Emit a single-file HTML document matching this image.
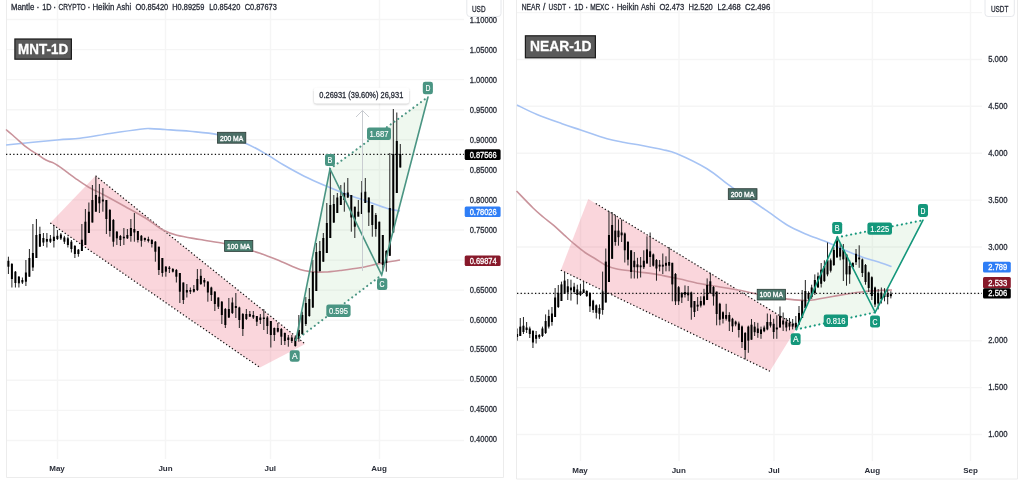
<!DOCTYPE html><html><head><meta charset="utf-8"><title>MNT-1D / NEAR-1D</title><style>html,body{margin:0;padding:0;width:1024px;height:480px;overflow:hidden;background:#fff}</style></head><body><svg width="1024" height="480" viewBox="0 0 1024 480" style="position:absolute;left:0;top:0" font-family="'Liberation Sans', Arial, sans-serif">
<rect width="1024" height="480" fill="#fff"/>
<g stroke="#f5f5f5" stroke-width="1.4">
<line x1="6" y1="19.5" x2="464" y2="19.5"/>
<line x1="6" y1="49.6" x2="464" y2="49.6"/>
<line x1="6" y1="79.6" x2="464" y2="79.6"/>
<line x1="6" y1="109.7" x2="464" y2="109.7"/>
<line x1="6" y1="139.8" x2="464" y2="139.8"/>
<line x1="6" y1="169.8" x2="464" y2="169.8"/>
<line x1="6" y1="199.9" x2="464" y2="199.9"/>
<line x1="6" y1="230.0" x2="464" y2="230.0"/>
<line x1="6" y1="260.1" x2="464" y2="260.1"/>
<line x1="6" y1="290.1" x2="464" y2="290.1"/>
<line x1="6" y1="320.2" x2="464" y2="320.2"/>
<line x1="6" y1="350.3" x2="464" y2="350.3"/>
<line x1="6" y1="380.3" x2="464" y2="380.3"/>
<line x1="6" y1="410.4" x2="464" y2="410.4"/>
<line x1="6" y1="440.5" x2="464" y2="440.5"/>
<line x1="57.5" y1="0" x2="57.5" y2="459"/>
<line x1="165.5" y1="0" x2="165.5" y2="459"/>
<line x1="270.5" y1="0" x2="270.5" y2="459"/>
<line x1="379.5" y1="0" x2="379.5" y2="459"/>
</g>
<g stroke="#ececec" stroke-width="1" fill="none">
<line x1="6.5" y1="0" x2="6.5" y2="477.5"/>
<line x1="503.5" y1="0" x2="503.5" y2="477.5"/>
<line x1="6.5" y1="477.5" x2="503.5" y2="477.5"/>
</g>
<polygon points="50.3,223.1 95.6,175.8 305.2,344.0 260.0,367.6" fill="rgb(228,52,78)" fill-opacity="0.2"/>
<g stroke="#111" stroke-width="1.2" stroke-dasharray="1.3 2.2" fill="none">
<line x1="95.6" y1="175.8" x2="305.2" y2="344"/>
<line x1="50.3" y1="223.1" x2="260" y2="367.6"/>
</g>
<polygon points="296.0,340.0 330.0,169.0 381.7,275.0" fill="rgb(100,185,100)" fill-opacity="0.1"/>
<polygon points="330.0,169.0 381.7,275.0 428.0,97.0" fill="rgb(100,185,100)" fill-opacity="0.1"/>
<path d="M6.00,145.00 C14.50,144.17 44.67,141.12 57.00,140.00 C69.33,138.88 71.17,139.38 80.00,138.30 C88.83,137.22 100.00,135.02 110.00,133.50 C120.00,131.98 133.33,130.02 140.00,129.20 C146.67,128.38 145.83,128.55 150.00,128.60 C154.17,128.65 158.33,129.05 165.00,129.50 C171.67,129.95 181.22,130.45 190.00,131.30 C198.78,132.15 208.57,132.67 217.70,134.60 C226.83,136.53 236.63,139.60 244.80,142.90 C252.97,146.20 260.28,150.75 266.70,154.40 C273.12,158.05 277.05,161.17 283.30,164.80 C289.55,168.43 297.25,172.73 304.20,176.20 C311.15,179.67 318.07,182.63 325.00,185.60 C331.93,188.57 338.85,191.40 345.80,194.00 C352.75,196.60 359.75,198.78 366.70,201.20 C373.65,203.62 381.95,206.87 387.50,208.50 C393.05,210.13 397.92,210.58 400.00,211.00" stroke="#a6c3f4" stroke-width="1.6" fill="none"/>
<path d="M6.00,129.50 C7.08,130.42 10.38,133.15 12.50,135.00 C14.62,136.85 16.67,138.73 18.75,140.60 C20.83,142.47 22.92,144.53 25.00,146.20 C27.08,147.87 29.17,149.23 31.25,150.60 C33.33,151.97 35.42,153.05 37.50,154.40 C39.58,155.75 41.88,157.57 43.75,158.70 C45.62,159.83 47.08,160.47 48.75,161.20 C50.42,161.93 52.08,162.27 53.75,163.10 C55.42,163.93 56.88,164.95 58.75,166.20 C60.62,167.45 63.12,169.23 65.00,170.60 C66.88,171.97 68.33,173.15 70.00,174.40 C71.67,175.65 72.08,176.08 75.00,178.10 C77.92,180.12 82.67,183.68 87.50,186.50 C92.33,189.32 97.75,191.67 104.00,195.00 C110.25,198.33 118.03,202.62 125.00,206.50 C131.97,210.38 139.55,214.42 145.80,218.30 C152.05,222.18 157.30,226.97 162.50,229.80 C167.70,232.63 170.75,233.68 177.00,235.30 C183.25,236.92 192.17,238.13 200.00,239.50 C207.83,240.87 217.33,242.20 224.00,243.50 C230.67,244.80 234.00,245.67 240.00,247.30 C246.00,248.93 253.33,251.02 260.00,253.30 C266.67,255.58 273.33,258.30 280.00,261.00 C286.67,263.70 294.67,267.70 300.00,269.50 C305.33,271.30 307.83,271.38 312.00,271.80 C316.17,272.22 320.33,272.22 325.00,272.00 C329.67,271.78 334.17,271.20 340.00,270.50 C345.83,269.80 353.33,268.98 360.00,267.80 C366.67,266.62 373.33,264.70 380.00,263.40 C386.67,262.10 396.67,260.57 400.00,260.00" stroke="#c9939b" stroke-width="1.6" fill="none"/>
<line x1="6" y1="154.3" x2="464" y2="154.3" stroke="#111" stroke-width="1.2" stroke-dasharray="1.3 2.3"/>
<defs><clipPath id="clipL"><rect x="7" y="0" width="457" height="459"/></clipPath><clipPath id="clipR"><rect x="517" y="0" width="465" height="461"/></clipPath></defs>
<g clip-path="url(#clipL)"><g fill="#000"><rect x="7.90" y="256.70" width="1.0" height="17.30" fill="#222"/><rect x="7.40" y="260.80" width="2.0" height="5.90"/><rect x="11.40" y="263.00" width="1.0" height="24.50" fill="#222"/><rect x="10.90" y="264.00" width="2.0" height="15.00"/><rect x="14.90" y="271.00" width="1.0" height="16.50" fill="#222"/><rect x="14.40" y="271.70" width="2.0" height="11.30"/><rect x="18.39" y="276.00" width="1.0" height="11.50" fill="#222"/><rect x="17.89" y="276.70" width="2.0" height="6.60"/><rect x="21.89" y="277.50" width="1.0" height="6.50" fill="#222"/><rect x="21.39" y="280.00" width="2.0" height="2.50"/><rect x="25.39" y="260.00" width="1.0" height="26.00" fill="#222"/><rect x="24.89" y="272.50" width="2.0" height="9.20"/><rect x="28.89" y="249.00" width="1.0" height="27.70" fill="#222"/><rect x="28.39" y="258.00" width="2.0" height="18.70"/><rect x="32.39" y="224.00" width="1.0" height="47.00" fill="#222"/><rect x="31.89" y="253.00" width="2.0" height="14.50"/><rect x="35.89" y="219.00" width="1.0" height="39.00" fill="#222"/><rect x="35.39" y="235.00" width="2.0" height="23.00"/><rect x="39.39" y="226.70" width="1.0" height="20.00" fill="#222"/><rect x="38.89" y="234.00" width="2.0" height="12.70"/><rect x="42.89" y="233.00" width="1.0" height="13.00" fill="#222"/><rect x="42.39" y="238.00" width="2.0" height="4.50"/><rect x="46.39" y="233.00" width="1.0" height="14.50" fill="#222"/><rect x="45.89" y="239.00" width="2.0" height="2.70"/><rect x="49.89" y="235.00" width="1.0" height="8.00" fill="#222"/><rect x="49.39" y="238.70" width="2.0" height="3.00"/><rect x="53.39" y="225.00" width="1.0" height="22.50" fill="#222"/><rect x="52.89" y="236.70" width="2.0" height="4.30"/><rect x="56.88" y="230.00" width="1.0" height="10.00" fill="#222"/><rect x="56.38" y="235.80" width="2.0" height="3.20"/><rect x="60.38" y="233.00" width="1.0" height="7.00" fill="#222"/><rect x="59.88" y="234.50" width="2.0" height="4.00"/><rect x="63.88" y="235.80" width="1.0" height="8.20" fill="#222"/><rect x="63.38" y="237.50" width="2.0" height="4.20"/><rect x="67.38" y="236.70" width="1.0" height="10.80" fill="#222"/><rect x="66.88" y="238.30" width="2.0" height="6.70"/><rect x="70.88" y="240.00" width="1.0" height="12.50" fill="#222"/><rect x="70.38" y="241.70" width="2.0" height="7.30"/><rect x="74.38" y="245.00" width="1.0" height="13.00" fill="#222"/><rect x="73.88" y="246.00" width="2.0" height="8.00"/><rect x="77.88" y="249.00" width="1.0" height="7.70" fill="#222"/><rect x="77.38" y="249.70" width="2.0" height="4.30"/><rect x="81.38" y="224.00" width="1.0" height="27.00" fill="#222"/><rect x="80.88" y="239.70" width="2.0" height="11.30"/><rect x="84.88" y="209.00" width="1.0" height="36.00" fill="#222"/><rect x="84.38" y="221.70" width="2.0" height="23.30"/><rect x="88.38" y="202.50" width="1.0" height="30.50" fill="#222"/><rect x="87.88" y="211.70" width="2.0" height="21.30"/><rect x="91.88" y="185.00" width="1.0" height="37.50" fill="#222"/><rect x="91.38" y="200.00" width="2.0" height="22.50"/><rect x="95.37" y="176.70" width="1.0" height="35.00" fill="#222"/><rect x="94.87" y="195.00" width="2.0" height="16.70"/><rect x="98.87" y="184.00" width="1.0" height="29.00" fill="#222"/><rect x="98.37" y="196.70" width="2.0" height="6.60"/><rect x="102.37" y="188.00" width="1.0" height="23.70" fill="#222"/><rect x="101.87" y="199.50" width="2.0" height="2.00"/><rect x="105.87" y="200.00" width="1.0" height="34.00" fill="#222"/><rect x="105.37" y="200.00" width="2.0" height="19.00"/><rect x="109.37" y="209.00" width="1.0" height="27.70" fill="#222"/><rect x="108.87" y="210.00" width="2.0" height="21.00"/><rect x="112.87" y="219.00" width="1.0" height="27.70" fill="#222"/><rect x="112.37" y="220.00" width="2.0" height="21.70"/><rect x="116.37" y="231.00" width="1.0" height="14.00" fill="#222"/><rect x="115.87" y="231.70" width="2.0" height="6.60"/><rect x="119.87" y="235.00" width="1.0" height="11.00" fill="#222"/><rect x="119.37" y="236.00" width="2.0" height="4.00"/><rect x="123.37" y="228.00" width="1.0" height="17.00" fill="#222"/><rect x="122.87" y="236.70" width="2.0" height="1.60"/><rect x="126.87" y="229.00" width="1.0" height="10.00" fill="#222"/><rect x="126.37" y="235.00" width="2.0" height="3.30"/><rect x="130.37" y="219.00" width="1.0" height="22.70" fill="#222"/><rect x="129.87" y="228.00" width="2.0" height="8.00"/><rect x="133.86" y="213.00" width="1.0" height="28.70" fill="#222"/><rect x="133.36" y="229.00" width="2.0" height="3.50"/><rect x="137.36" y="231.00" width="1.0" height="11.50" fill="#222"/><rect x="136.86" y="231.00" width="2.0" height="9.00"/><rect x="140.86" y="235.00" width="1.0" height="11.70" fill="#222"/><rect x="140.36" y="235.80" width="2.0" height="5.00"/><rect x="144.36" y="237.50" width="1.0" height="4.20" fill="#222"/><rect x="143.86" y="238.00" width="2.0" height="2.00"/><rect x="147.86" y="236.70" width="1.0" height="5.80" fill="#222"/><rect x="147.36" y="239.00" width="2.0" height="2.00"/><rect x="151.36" y="239.00" width="1.0" height="8.50" fill="#222"/><rect x="150.86" y="240.00" width="2.0" height="4.00"/><rect x="154.86" y="241.00" width="1.0" height="20.70" fill="#222"/><rect x="154.36" y="241.70" width="2.0" height="10.00"/><rect x="158.36" y="246.70" width="1.0" height="28.30" fill="#222"/><rect x="157.86" y="246.70" width="2.0" height="23.30"/><rect x="161.86" y="258.00" width="1.0" height="18.70" fill="#222"/><rect x="161.36" y="258.00" width="2.0" height="15.00"/><rect x="165.36" y="266.00" width="1.0" height="10.70" fill="#222"/><rect x="164.86" y="266.70" width="2.0" height="5.00"/><rect x="168.86" y="266.00" width="1.0" height="7.00" fill="#222"/><rect x="168.36" y="267.50" width="2.0" height="1.50"/><rect x="172.35" y="268.00" width="1.0" height="4.50" fill="#222"/><rect x="171.85" y="269.00" width="2.0" height="2.70"/><rect x="175.85" y="269.00" width="1.0" height="13.50" fill="#222"/><rect x="175.35" y="270.00" width="2.0" height="6.70"/><rect x="179.35" y="273.00" width="1.0" height="30.00" fill="#222"/><rect x="178.85" y="273.00" width="2.0" height="18.70"/><rect x="182.85" y="282.50" width="1.0" height="21.50" fill="#222"/><rect x="182.35" y="282.50" width="2.0" height="17.50"/><rect x="186.35" y="284.00" width="1.0" height="13.50" fill="#222"/><rect x="185.85" y="290.00" width="2.0" height="2.50"/><rect x="189.85" y="287.50" width="1.0" height="6.50" fill="#222"/><rect x="189.35" y="290.00" width="2.0" height="1.70"/><rect x="193.35" y="285.00" width="1.0" height="7.50" fill="#222"/><rect x="192.85" y="289.00" width="2.0" height="2.70"/><rect x="196.85" y="269.00" width="1.0" height="22.00" fill="#222"/><rect x="196.35" y="279.00" width="2.0" height="11.00"/><rect x="200.35" y="269.00" width="1.0" height="16.00" fill="#222"/><rect x="199.85" y="275.80" width="2.0" height="8.20"/><rect x="203.85" y="278.00" width="1.0" height="8.70" fill="#222"/><rect x="203.35" y="280.00" width="2.0" height="2.50"/><rect x="207.35" y="281.00" width="1.0" height="20.70" fill="#222"/><rect x="206.85" y="281.70" width="2.0" height="10.80"/><rect x="210.84" y="286.70" width="1.0" height="14.30" fill="#222"/><rect x="210.34" y="287.50" width="2.0" height="7.50"/><rect x="214.34" y="291.00" width="1.0" height="20.00" fill="#222"/><rect x="213.84" y="291.70" width="2.0" height="12.30"/><rect x="217.84" y="297.50" width="1.0" height="11.50" fill="#222"/><rect x="217.34" y="297.50" width="2.0" height="9.20"/><rect x="221.34" y="301.00" width="1.0" height="23.00" fill="#222"/><rect x="220.84" y="301.70" width="2.0" height="13.30"/><rect x="224.84" y="308.00" width="1.0" height="20.00" fill="#222"/><rect x="224.34" y="309.00" width="2.0" height="16.00"/><rect x="228.34" y="298.00" width="1.0" height="20.00" fill="#222"/><rect x="227.84" y="309.00" width="2.0" height="8.50"/><rect x="231.84" y="297.50" width="1.0" height="16.50" fill="#222"/><rect x="231.34" y="302.50" width="2.0" height="10.50"/><rect x="235.34" y="293.00" width="1.0" height="25.00" fill="#222"/><rect x="234.84" y="306.00" width="2.0" height="2.00"/><rect x="238.84" y="306.70" width="1.0" height="21.30" fill="#222"/><rect x="238.34" y="307.50" width="2.0" height="12.50"/><rect x="242.34" y="313.00" width="1.0" height="23.00" fill="#222"/><rect x="241.84" y="314.00" width="2.0" height="15.00"/><rect x="245.84" y="309.00" width="1.0" height="11.00" fill="#222"/><rect x="245.34" y="314.00" width="2.0" height="5.00"/><rect x="249.33" y="311.00" width="1.0" height="5.70" fill="#222"/><rect x="248.83" y="314.00" width="2.0" height="2.70"/><rect x="252.83" y="311.00" width="1.0" height="8.00" fill="#222"/><rect x="252.33" y="315.00" width="2.0" height="2.50"/><rect x="256.33" y="316.00" width="1.0" height="10.00" fill="#222"/><rect x="255.83" y="316.00" width="2.0" height="5.70"/><rect x="259.83" y="314.00" width="1.0" height="10.00" fill="#222"/><rect x="259.33" y="317.50" width="2.0" height="2.50"/><rect x="263.33" y="309.00" width="1.0" height="21.00" fill="#222"/><rect x="262.83" y="317.50" width="2.0" height="1.50"/><rect x="266.83" y="316.00" width="1.0" height="18.00" fill="#222"/><rect x="266.33" y="317.50" width="2.0" height="8.50"/><rect x="270.33" y="321.00" width="1.0" height="26.50" fill="#222"/><rect x="269.83" y="321.00" width="2.0" height="14.00"/><rect x="273.83" y="327.50" width="1.0" height="13.50" fill="#222"/><rect x="273.33" y="328.00" width="2.0" height="7.00"/><rect x="277.33" y="323.00" width="1.0" height="9.50" fill="#222"/><rect x="276.83" y="328.00" width="2.0" height="3.70"/><rect x="280.83" y="328.00" width="1.0" height="17.00" fill="#222"/><rect x="280.33" y="329.00" width="2.0" height="7.70"/><rect x="284.33" y="332.50" width="1.0" height="12.50" fill="#222"/><rect x="283.83" y="333.00" width="2.0" height="8.00"/><rect x="287.82" y="335.00" width="1.0" height="11.70" fill="#222"/><rect x="287.32" y="337.50" width="2.0" height="2.50"/><rect x="291.32" y="335.00" width="1.0" height="8.00" fill="#222"/><rect x="290.82" y="337.50" width="2.0" height="3.50"/><rect x="294.82" y="336.70" width="1.0" height="10.00" fill="#222"/><rect x="294.32" y="337.50" width="2.0" height="8.50"/><rect x="298.32" y="315.00" width="1.0" height="26.70" fill="#222"/><rect x="297.82" y="330.00" width="2.0" height="8.30"/><rect x="301.82" y="311.70" width="1.0" height="23.30" fill="#222"/><rect x="301.32" y="315.00" width="2.0" height="19.00"/><rect x="305.32" y="297.00" width="1.0" height="29.00" fill="#222"/><rect x="304.82" y="303.00" width="2.0" height="21.00"/><rect x="308.82" y="288.00" width="1.0" height="28.70" fill="#222"/><rect x="308.32" y="299.00" width="2.0" height="17.00"/><rect x="312.32" y="260.00" width="1.0" height="48.00" fill="#222"/><rect x="311.82" y="272.00" width="2.0" height="35.50"/><rect x="315.82" y="243.00" width="1.0" height="48.00" fill="#222"/><rect x="315.32" y="252.00" width="2.0" height="39.00"/><rect x="319.32" y="241.00" width="1.0" height="30.70" fill="#222"/><rect x="318.82" y="251.00" width="2.0" height="20.00"/><rect x="322.82" y="233.00" width="1.0" height="28.70" fill="#222"/><rect x="322.32" y="238.00" width="2.0" height="23.70"/><rect x="326.32" y="203.00" width="1.0" height="50.00" fill="#222"/><rect x="325.82" y="223.00" width="2.0" height="30.00"/><rect x="329.81" y="168.00" width="1.0" height="70.00" fill="#222"/><rect x="329.31" y="205.00" width="2.0" height="33.00"/><rect x="333.31" y="195.00" width="1.0" height="28.00" fill="#222"/><rect x="332.81" y="204.00" width="2.0" height="18.50"/><rect x="336.81" y="193.00" width="1.0" height="20.00" fill="#222"/><rect x="336.31" y="197.50" width="2.0" height="15.50"/><rect x="340.31" y="185.00" width="1.0" height="20.00" fill="#222"/><rect x="339.81" y="196.00" width="2.0" height="9.00"/><rect x="343.81" y="182.50" width="1.0" height="29.20" fill="#222"/><rect x="343.31" y="193.00" width="2.0" height="7.00"/><rect x="347.31" y="178.00" width="1.0" height="20.00" fill="#222"/><rect x="346.81" y="192.50" width="2.0" height="5.00"/><rect x="350.81" y="195.00" width="1.0" height="36.70" fill="#222"/><rect x="350.31" y="195.00" width="2.0" height="22.50"/><rect x="354.31" y="206.70" width="1.0" height="31.30" fill="#222"/><rect x="353.81" y="206.70" width="2.0" height="20.00"/><rect x="357.81" y="200.00" width="1.0" height="15.00" fill="#222"/><rect x="357.31" y="211.70" width="2.0" height="5.00"/><rect x="361.31" y="181.00" width="1.0" height="33.00" fill="#222"/><rect x="360.81" y="192.50" width="2.0" height="21.50"/><rect x="364.81" y="178.00" width="1.0" height="25.00" fill="#222"/><rect x="364.31" y="191.70" width="2.0" height="11.30"/><rect x="368.30" y="197.50" width="1.0" height="28.50" fill="#222"/><rect x="367.80" y="197.50" width="2.0" height="15.00"/><rect x="371.80" y="205.00" width="1.0" height="31.70" fill="#222"/><rect x="371.30" y="205.00" width="2.0" height="20.00"/><rect x="375.30" y="213.00" width="1.0" height="23.70" fill="#222"/><rect x="374.80" y="215.00" width="2.0" height="14.00"/><rect x="378.80" y="221.70" width="1.0" height="41.30" fill="#222"/><rect x="378.30" y="221.70" width="2.0" height="41.30"/><rect x="382.30" y="235.00" width="1.0" height="36.00" fill="#222"/><rect x="381.80" y="235.00" width="2.0" height="30.00"/><rect x="385.80" y="250.00" width="1.0" height="21.70" fill="#222"/><rect x="385.30" y="251.00" width="2.0" height="12.00"/><rect x="389.30" y="153.00" width="1.0" height="102.80" fill="#222"/><rect x="388.80" y="208.00" width="2.0" height="47.80"/><rect x="392.80" y="109.00" width="1.0" height="123.50" fill="#222"/><rect x="392.30" y="154.00" width="2.0" height="78.50"/><rect x="396.30" y="112.50" width="1.0" height="80.50" fill="#222"/><rect x="395.80" y="141.00" width="2.0" height="52.00"/><rect x="399.80" y="144.00" width="1.0" height="23.50" fill="#222"/><rect x="399.30" y="154.00" width="2.0" height="13.50"/></g></g>
<g stroke="#4a9583" stroke-width="1.6" fill="none" stroke-linecap="round">
<polyline points="296.0,340.0 330.0,169.0 381.7,275.0 428.0,97.0"/>
</g>
<g stroke="#4a9583" stroke-width="2.1" stroke-dasharray="0.1 4.6" stroke-linecap="round" fill="none">
<line x1="296" y1="340" x2="381.7" y2="275"/>
<line x1="330" y1="169" x2="428" y2="97"/>
</g>
<g stroke="#c9ccd1" stroke-width="1" fill="none">
<line x1="362.5" y1="110.5" x2="362.5" y2="271"/>
<polyline points="356,117 362.5,110.5 369,117"/>
</g>
<rect x="289.7" y="350.3" width="10.0" height="11.4" rx="2.3" fill="#4a9583"/><text x="294.7" y="359.1" font-size="8.5" fill="#fff" text-anchor="middle" font-weight="normal" textLength="5.6" lengthAdjust="spacingAndGlyphs" stroke="#fff" stroke-width="0.15" >A</text>
<rect x="325" y="154" width="10.0" height="12.0" rx="2.3" fill="#4a9583"/><text x="330.0" y="163.1" font-size="8.5" fill="#fff" text-anchor="middle" font-weight="normal" textLength="4.8" lengthAdjust="spacingAndGlyphs" stroke="#fff" stroke-width="0.15" >B</text>
<rect x="377" y="278.3" width="10.3" height="11.7" rx="2.3" fill="#4a9583"/><text x="382.1" y="287.2" font-size="8.5" fill="#fff" text-anchor="middle" font-weight="normal" textLength="5.0" lengthAdjust="spacingAndGlyphs" stroke="#fff" stroke-width="0.15" >C</text>
<rect x="422.8" y="81.7" width="10.1" height="12.6" rx="2.3" fill="#4a9583"/><text x="427.9" y="91.1" font-size="8.5" fill="#fff" text-anchor="middle" font-weight="normal" textLength="4.9" lengthAdjust="spacingAndGlyphs" stroke="#fff" stroke-width="0.15" >D</text>
<rect x="326.3" y="304.4" width="24.3" height="12.5" rx="2.3" fill="#4a9583"/><text x="338.5" y="313.7" font-size="8.5" fill="#fff" text-anchor="middle" font-weight="normal" textLength="19" lengthAdjust="spacingAndGlyphs" stroke="#fff" stroke-width="0.15" >0.595</text>
<rect x="367" y="127.5" width="24.0" height="12.5" rx="2.3" fill="#4a9583"/><text x="379.0" y="136.8" font-size="8.5" fill="#fff" text-anchor="middle" font-weight="normal" textLength="19" lengthAdjust="spacingAndGlyphs" stroke="#fff" stroke-width="0.15" >1.687</text>
<defs><filter id="sh" x="-20%" y="-40%" width="140%" height="180%"><feGaussianBlur in="SourceAlpha" stdDeviation="1.2"/><feOffset dy="0.5"/><feComponentTransfer><feFuncA type="linear" slope="0.25"/></feComponentTransfer><feMerge><feMergeNode/><feMergeNode in="SourceGraphic"/></feMerge></filter></defs>
<rect x="314" y="87.7" width="95" height="15.6" rx="2.5" fill="#fff" filter="url(#sh)"/>
<text x="361.3" y="98.3" font-size="8.3" fill="#2a2e39" text-anchor="middle" font-weight="normal" textLength="84" lengthAdjust="spacingAndGlyphs" stroke="#2a2e39" stroke-width="0.3" >0.26931 (39.60%) 26,931</text>
<rect x="217.5" y="132.3" width="28.3" height="10.9" fill="#4b6e66" stroke="#2b3a36" stroke-width="0.8"/>
<text x="231.6" y="140.5" font-size="7.6" fill="#fff" text-anchor="middle" font-weight="normal" textLength="23.4" lengthAdjust="spacingAndGlyphs" stroke="#fff" stroke-width="0.35" >200 MA</text>
<rect x="224.6" y="240.4" width="28.2" height="11" fill="#477b6c" stroke="#2b3a36" stroke-width="0.8"/>
<text x="238.7" y="248.6" font-size="7.6" fill="#fff" text-anchor="middle" font-weight="normal" textLength="23.4" lengthAdjust="spacingAndGlyphs" stroke="#fff" stroke-width="0.35" >100 MA</text>
<rect x="14.9" y="39" width="56.5" height="20.2" fill="#5a5a5a" stroke="#1c1c1c" stroke-width="1.2"/>
<text x="43.1" y="54" font-size="14.5" fill="#fff" text-anchor="middle" font-weight="bold" textLength="50" lengthAdjust="spacingAndGlyphs" stroke="#fff" stroke-width="0.3" >MNT-1D</text>
<text x="10.95" y="9.7" font-size="8.5" fill="#2a2e39" text-anchor="start" font-weight="normal" textLength="23.35" lengthAdjust="spacingAndGlyphs" stroke="#2a2e39" stroke-width="0.3" >Mantle</text><text x="38.00" y="9.7" font-size="8.5" fill="#2a2e39" text-anchor="middle" font-weight="normal" stroke="#2a2e39" stroke-width="0.3" >·</text><text x="42.20" y="9.7" font-size="8.5" fill="#2a2e39" text-anchor="start" font-weight="normal" textLength="9.35" lengthAdjust="spacingAndGlyphs" stroke="#2a2e39" stroke-width="0.3" >1D</text><text x="54.60" y="9.7" font-size="8.5" fill="#2a2e39" text-anchor="middle" font-weight="normal" stroke="#2a2e39" stroke-width="0.3" >·</text><text x="58.45" y="9.7" font-size="8.5" fill="#2a2e39" text-anchor="start" font-weight="normal" textLength="27.25" lengthAdjust="spacingAndGlyphs" stroke="#2a2e39" stroke-width="0.3" >CRYPTO</text><text x="89.00" y="9.7" font-size="8.5" fill="#2a2e39" text-anchor="middle" font-weight="normal" stroke="#2a2e39" stroke-width="0.3" >·</text><text x="92.45" y="9.7" font-size="8.5" fill="#2a2e39" text-anchor="start" font-weight="normal" textLength="21.85" lengthAdjust="spacingAndGlyphs" stroke="#2a2e39" stroke-width="0.3" >Heikin</text><text x="116.60" y="9.7" font-size="8.5" fill="#2a2e39" text-anchor="start" font-weight="normal" textLength="14.45" lengthAdjust="spacingAndGlyphs" stroke="#2a2e39" stroke-width="0.3" >Ashi</text><text x="135.45" y="9.7" font-size="8.5" fill="#2a2e39" text-anchor="start" font-weight="normal" textLength="32.85" lengthAdjust="spacingAndGlyphs" stroke="#2a2e39" stroke-width="0.3" >O0.85420</text><text x="172.30" y="9.7" font-size="8.5" fill="#2a2e39" text-anchor="start" font-weight="normal" textLength="32.00" lengthAdjust="spacingAndGlyphs" stroke="#2a2e39" stroke-width="0.3" >H0.89259</text><text x="209.20" y="9.7" font-size="8.5" fill="#2a2e39" text-anchor="start" font-weight="normal" textLength="31.10" lengthAdjust="spacingAndGlyphs" stroke="#2a2e39" stroke-width="0.3" >L0.85420</text><text x="244.70" y="9.7" font-size="8.5" fill="#2a2e39" text-anchor="start" font-weight="normal" textLength="32.20" lengthAdjust="spacingAndGlyphs" stroke="#2a2e39" stroke-width="0.3" >C0.87673</text>
<text x="497" y="22.70" font-size="8.7" fill="#2a2e39" text-anchor="end" font-weight="normal" textLength="27.2" lengthAdjust="spacingAndGlyphs" stroke="#2a2e39" stroke-width="0.3" >1.10000</text>
<text x="497" y="52.68" font-size="8.7" fill="#2a2e39" text-anchor="end" font-weight="normal" textLength="27.2" lengthAdjust="spacingAndGlyphs" stroke="#2a2e39" stroke-width="0.3" >1.05000</text>
<text x="497" y="82.66" font-size="8.7" fill="#2a2e39" text-anchor="end" font-weight="normal" textLength="27.2" lengthAdjust="spacingAndGlyphs" stroke="#2a2e39" stroke-width="0.3" >1.00000</text>
<text x="497" y="112.64" font-size="8.7" fill="#2a2e39" text-anchor="end" font-weight="normal" textLength="27.2" lengthAdjust="spacingAndGlyphs" stroke="#2a2e39" stroke-width="0.3" >0.95000</text>
<text x="497" y="142.62" font-size="8.7" fill="#2a2e39" text-anchor="end" font-weight="normal" textLength="27.2" lengthAdjust="spacingAndGlyphs" stroke="#2a2e39" stroke-width="0.3" >0.90000</text>
<text x="497" y="172.60" font-size="8.7" fill="#2a2e39" text-anchor="end" font-weight="normal" textLength="27.2" lengthAdjust="spacingAndGlyphs" stroke="#2a2e39" stroke-width="0.3" >0.85000</text>
<text x="497" y="202.58" font-size="8.7" fill="#2a2e39" text-anchor="end" font-weight="normal" textLength="27.2" lengthAdjust="spacingAndGlyphs" stroke="#2a2e39" stroke-width="0.3" >0.80000</text>
<text x="497" y="232.56" font-size="8.7" fill="#2a2e39" text-anchor="end" font-weight="normal" textLength="27.2" lengthAdjust="spacingAndGlyphs" stroke="#2a2e39" stroke-width="0.3" >0.75000</text>
<text x="497" y="292.52" font-size="8.7" fill="#2a2e39" text-anchor="end" font-weight="normal" textLength="27.2" lengthAdjust="spacingAndGlyphs" stroke="#2a2e39" stroke-width="0.3" >0.65000</text>
<text x="497" y="322.50" font-size="8.7" fill="#2a2e39" text-anchor="end" font-weight="normal" textLength="27.2" lengthAdjust="spacingAndGlyphs" stroke="#2a2e39" stroke-width="0.3" >0.60000</text>
<text x="497" y="352.48" font-size="8.7" fill="#2a2e39" text-anchor="end" font-weight="normal" textLength="27.2" lengthAdjust="spacingAndGlyphs" stroke="#2a2e39" stroke-width="0.3" >0.55000</text>
<text x="497" y="382.46" font-size="8.7" fill="#2a2e39" text-anchor="end" font-weight="normal" textLength="27.2" lengthAdjust="spacingAndGlyphs" stroke="#2a2e39" stroke-width="0.3" >0.50000</text>
<text x="497" y="412.44" font-size="8.7" fill="#2a2e39" text-anchor="end" font-weight="normal" textLength="27.2" lengthAdjust="spacingAndGlyphs" stroke="#2a2e39" stroke-width="0.3" >0.45000</text>
<text x="497" y="442.42" font-size="8.7" fill="#2a2e39" text-anchor="end" font-weight="normal" textLength="27.2" lengthAdjust="spacingAndGlyphs" stroke="#2a2e39" stroke-width="0.3" >0.40000</text>
<rect x="466.8" y="-4" width="34.2" height="20.5" rx="3" fill="#fff" stroke="#e6e8ec" stroke-width="1"/>
<text x="472" y="11.6" font-size="8.6" fill="#2a2e39" text-anchor="start" font-weight="normal" textLength="13.5" lengthAdjust="spacingAndGlyphs" stroke="#2a2e39" stroke-width="0.3" >USD</text>
<rect x="464.7" y="149.3" width="35.9" height="10.6" rx="1.5" fill="#000"/><text x="483.2" y="157.6" font-size="8.3" fill="#fff" text-anchor="middle" font-weight="normal" textLength="27" lengthAdjust="spacingAndGlyphs" stroke="#fff" stroke-width="0.3" >0.87566</text>
<rect x="464.7" y="206.6" width="35.9" height="10.4" rx="1.5" fill="#2f7ef6"/><text x="483.2" y="214.8" font-size="8.3" fill="#fff" text-anchor="middle" font-weight="normal" textLength="27" lengthAdjust="spacingAndGlyphs" stroke="#fff" stroke-width="0.3" >0.78026</text>
<rect x="464.7" y="255.4" width="35.9" height="10.5" rx="1.5" fill="#87192a"/><text x="483.2" y="263.6" font-size="8.3" fill="#fff" text-anchor="middle" font-weight="normal" textLength="27" lengthAdjust="spacingAndGlyphs" stroke="#fff" stroke-width="0.3" >0.69874</text>
<text x="57" y="471" font-size="8" fill="#2a2e39" text-anchor="middle" font-weight="bold" >May</text>
<text x="165.5" y="471" font-size="8" fill="#2a2e39" text-anchor="middle" font-weight="bold" >Jun</text>
<text x="270.3" y="471" font-size="8" fill="#2a2e39" text-anchor="middle" font-weight="bold" >Jul</text>
<text x="379" y="471" font-size="8" fill="#2a2e39" text-anchor="middle" font-weight="bold" >Aug</text>
<g stroke="#f5f5f5" stroke-width="1.4">
<line x1="517" y1="12.6" x2="982" y2="12.6"/>
<line x1="517" y1="59.5" x2="982" y2="59.5"/>
<line x1="517" y1="106.3" x2="982" y2="106.3"/>
<line x1="517" y1="153.2" x2="982" y2="153.2"/>
<line x1="517" y1="200.1" x2="982" y2="200.1"/>
<line x1="517" y1="247.0" x2="982" y2="247.0"/>
<line x1="517" y1="293.9" x2="982" y2="293.9"/>
<line x1="517" y1="340.7" x2="982" y2="340.7"/>
<line x1="517" y1="387.6" x2="982" y2="387.6"/>
<line x1="517" y1="434.5" x2="982" y2="434.5"/>
<line x1="580.5" y1="0" x2="580.5" y2="461"/>
<line x1="679" y1="0" x2="679" y2="461"/>
<line x1="774" y1="0" x2="774" y2="461"/>
<line x1="872.4" y1="0" x2="872.4" y2="461"/>
<line x1="970.5" y1="0" x2="970.5" y2="461"/>
</g>
<g stroke="#ececec" stroke-width="1" fill="none">
<line x1="516.5" y1="0" x2="516.5" y2="479"/>
<line x1="1017.5" y1="0" x2="1017.5" y2="479"/>
<line x1="516.5" y1="479" x2="1017.5" y2="479"/>
</g>
<polygon points="560.8,270.2 588.3,198.9 797.5,326.5 769.9,371.2" fill="rgb(228,52,78)" fill-opacity="0.2"/>
<g stroke="#111" stroke-width="1.2" stroke-dasharray="1.3 2.2" fill="none">
<line x1="595.8" y1="203.5" x2="797.5" y2="326.5"/>
<line x1="560.8" y1="270.2" x2="769.9" y2="371.2"/>
</g>
<polygon points="796.3,329.4 837.3,237.3 875.2,312.3" fill="rgb(100,185,100)" fill-opacity="0.1"/>
<polygon points="837.3,237.3 875.2,312.3 923.0,220.2" fill="rgb(100,185,100)" fill-opacity="0.1"/>
<path d="M517.00,105.00 C520.33,106.58 529.50,111.38 537.00,114.50 C544.50,117.62 554.72,121.12 562.00,123.70 C569.28,126.28 573.20,127.50 580.70,130.00 C588.20,132.50 599.70,136.62 607.00,138.70 C614.30,140.78 618.67,141.37 624.50,142.50 C630.33,143.63 635.75,144.33 642.00,145.50 C648.25,146.67 656.17,148.13 662.00,149.50 C667.83,150.87 669.50,150.50 677.00,153.70 C684.50,156.90 698.67,163.70 707.00,168.70 C715.33,173.70 721.50,179.65 727.00,183.70 C732.50,187.75 736.00,190.28 740.00,193.00 C744.00,195.72 746.22,196.80 751.00,200.00 C755.78,203.20 762.62,207.98 768.70,212.20 C774.78,216.42 781.23,221.63 787.50,225.30 C793.77,228.97 800.05,231.53 806.30,234.20 C812.55,236.87 818.75,238.72 825.00,241.30 C831.25,243.88 837.53,247.05 843.80,249.70 C850.07,252.35 856.35,255.00 862.60,257.20 C868.85,259.40 876.47,261.33 881.30,262.90 C886.13,264.47 889.88,265.98 891.60,266.60" stroke="#a6c3f4" stroke-width="1.6" fill="none"/>
<path d="M516.50,191.00 C519.22,193.78 528.35,203.37 532.80,207.70 C537.25,212.03 539.72,214.05 543.20,217.00 C546.68,219.95 550.23,222.43 553.70,225.40 C557.17,228.37 560.53,231.67 564.00,234.80 C567.47,237.93 571.00,241.25 574.50,244.20 C578.00,247.15 581.53,250.08 585.00,252.50 C588.47,254.92 591.85,256.58 595.30,258.70 C598.75,260.82 602.25,263.53 605.70,265.20 C609.15,266.87 610.78,267.62 616.00,268.70 C621.22,269.78 630.03,270.72 637.00,271.70 C643.97,272.68 650.85,273.42 657.80,274.60 C664.75,275.78 671.75,277.32 678.70,278.80 C685.65,280.28 692.62,282.13 699.50,283.50 C706.38,284.87 713.25,285.87 720.00,287.00 C726.75,288.13 734.67,289.30 740.00,290.30 C745.33,291.30 747.00,291.97 752.00,293.00 C757.00,294.03 764.33,295.52 770.00,296.50 C775.67,297.48 779.75,298.23 786.00,298.90 C792.25,299.57 799.75,300.90 807.50,300.50 C815.25,300.10 825.42,297.67 832.50,296.50 C839.58,295.33 843.75,294.42 850.00,293.50 C856.25,292.58 863.00,291.58 870.00,291.00 C877.00,290.42 888.33,290.17 892.00,290.00" stroke="#c9939b" stroke-width="1.6" fill="none"/>
<line x1="517" y1="293.3" x2="982" y2="293.3" stroke="#111" stroke-width="1.2" stroke-dasharray="1.3 2.3"/>
<g clip-path="url(#clipR)"><g fill="#000"><rect x="516.61" y="328.50" width="1.0" height="12.20" fill="#222"/><rect x="516.11" y="334.00" width="2.0" height="3.00"/><rect x="519.77" y="318.00" width="1.0" height="18.00" fill="#222"/><rect x="519.27" y="326.60" width="2.0" height="9.40"/><rect x="522.94" y="317.00" width="1.0" height="17.00" fill="#222"/><rect x="522.44" y="325.70" width="2.0" height="6.30"/><rect x="526.11" y="322.00" width="1.0" height="11.00" fill="#222"/><rect x="525.61" y="327.50" width="2.0" height="2.50"/><rect x="529.28" y="326.60" width="1.0" height="11.40" fill="#222"/><rect x="528.78" y="328.50" width="2.0" height="5.50"/><rect x="532.44" y="330.00" width="1.0" height="18.00" fill="#222"/><rect x="531.94" y="331.00" width="2.0" height="11.50"/><rect x="535.61" y="331.00" width="1.0" height="12.50" fill="#222"/><rect x="535.11" y="335.00" width="2.0" height="3.80"/><rect x="538.78" y="334.00" width="1.0" height="5.00" fill="#222"/><rect x="538.28" y="335.00" width="2.0" height="2.30"/><rect x="541.95" y="326.60" width="1.0" height="10.40" fill="#222"/><rect x="541.45" y="328.50" width="2.0" height="7.50"/><rect x="545.11" y="314.40" width="1.0" height="19.60" fill="#222"/><rect x="544.61" y="321.00" width="2.0" height="12.00"/><rect x="548.28" y="309.70" width="1.0" height="18.80" fill="#222"/><rect x="547.78" y="316.00" width="2.0" height="10.60"/><rect x="551.45" y="307.00" width="1.0" height="18.70" fill="#222"/><rect x="550.95" y="313.50" width="2.0" height="8.50"/><rect x="554.61" y="288.00" width="1.0" height="29.00" fill="#222"/><rect x="554.11" y="297.50" width="2.0" height="19.50"/><rect x="557.78" y="285.00" width="1.0" height="23.00" fill="#222"/><rect x="557.28" y="292.80" width="2.0" height="14.20"/><rect x="560.95" y="281.60" width="1.0" height="19.40" fill="#222"/><rect x="560.45" y="284.40" width="2.0" height="16.60"/><rect x="564.12" y="272.00" width="1.0" height="21.80" fill="#222"/><rect x="563.62" y="280.60" width="2.0" height="13.20"/><rect x="567.28" y="279.00" width="1.0" height="21.00" fill="#222"/><rect x="566.78" y="286.30" width="2.0" height="6.20"/><rect x="570.45" y="279.70" width="1.0" height="20.90" fill="#222"/><rect x="569.95" y="287.50" width="2.0" height="2.80"/><rect x="573.62" y="282.80" width="1.0" height="11.20" fill="#222"/><rect x="573.12" y="286.60" width="2.0" height="5.40"/><rect x="576.79" y="284.70" width="1.0" height="19.70" fill="#222"/><rect x="576.29" y="289.40" width="2.0" height="5.60"/><rect x="579.95" y="283.80" width="1.0" height="12.20" fill="#222"/><rect x="579.45" y="291.30" width="2.0" height="3.70"/><rect x="583.12" y="281.00" width="1.0" height="12.00" fill="#222"/><rect x="582.62" y="289.40" width="2.0" height="3.60"/><rect x="586.29" y="290.30" width="1.0" height="6.70" fill="#222"/><rect x="585.79" y="291.00" width="2.0" height="5.00"/><rect x="589.45" y="292.20" width="1.0" height="19.80" fill="#222"/><rect x="588.95" y="293.00" width="2.0" height="13.30"/><rect x="592.62" y="299.70" width="1.0" height="13.10" fill="#222"/><rect x="592.12" y="300.60" width="2.0" height="9.40"/><rect x="595.79" y="304.40" width="1.0" height="14.10" fill="#222"/><rect x="595.29" y="305.30" width="2.0" height="7.50"/><rect x="598.96" y="304.40" width="1.0" height="15.00" fill="#222"/><rect x="598.46" y="308.00" width="2.0" height="5.80"/><rect x="602.12" y="271.60" width="1.0" height="43.10" fill="#222"/><rect x="601.62" y="291.30" width="2.0" height="18.70"/><rect x="605.29" y="248.50" width="1.0" height="54.00" fill="#222"/><rect x="604.79" y="261.60" width="2.0" height="40.90"/><rect x="608.46" y="211.00" width="1.0" height="71.00" fill="#222"/><rect x="607.96" y="235.00" width="2.0" height="47.00"/><rect x="611.63" y="212.00" width="1.0" height="46.80" fill="#222"/><rect x="611.13" y="225.00" width="2.0" height="33.80"/><rect x="614.79" y="214.70" width="1.0" height="31.00" fill="#222"/><rect x="614.29" y="230.60" width="2.0" height="11.40"/><rect x="617.96" y="219.40" width="1.0" height="26.30" fill="#222"/><rect x="617.46" y="230.60" width="2.0" height="6.60"/><rect x="621.13" y="219.40" width="1.0" height="22.60" fill="#222"/><rect x="620.63" y="232.50" width="2.0" height="2.80"/><rect x="624.30" y="232.50" width="1.0" height="30.00" fill="#222"/><rect x="623.80" y="233.50" width="2.0" height="16.80"/><rect x="627.46" y="241.00" width="1.0" height="24.40" fill="#222"/><rect x="626.96" y="242.00" width="2.0" height="17.70"/><rect x="630.63" y="250.30" width="1.0" height="28.20" fill="#222"/><rect x="630.13" y="250.30" width="2.0" height="21.70"/><rect x="633.80" y="252.00" width="1.0" height="26.50" fill="#222"/><rect x="633.30" y="260.70" width="2.0" height="6.50"/><rect x="636.96" y="257.80" width="1.0" height="20.70" fill="#222"/><rect x="636.46" y="264.40" width="2.0" height="2.80"/><rect x="640.13" y="257.00" width="1.0" height="20.50" fill="#222"/><rect x="639.63" y="265.40" width="2.0" height="1.80"/><rect x="643.30" y="250.30" width="1.0" height="18.70" fill="#222"/><rect x="642.80" y="260.70" width="2.0" height="6.50"/><rect x="646.47" y="236.30" width="1.0" height="27.20" fill="#222"/><rect x="645.97" y="249.40" width="2.0" height="14.10"/><rect x="649.63" y="232.50" width="1.0" height="34.50" fill="#222"/><rect x="649.13" y="251.30" width="2.0" height="5.70"/><rect x="652.80" y="253.50" width="1.0" height="13.10" fill="#222"/><rect x="652.30" y="254.40" width="2.0" height="11.30"/><rect x="655.97" y="259.00" width="1.0" height="21.70" fill="#222"/><rect x="655.47" y="260.00" width="2.0" height="8.50"/><rect x="659.14" y="260.00" width="1.0" height="11.30" fill="#222"/><rect x="658.64" y="264.70" width="2.0" height="1.90"/><rect x="662.30" y="253.50" width="1.0" height="20.50" fill="#222"/><rect x="661.80" y="264.70" width="2.0" height="1.90"/><rect x="665.47" y="256.30" width="1.0" height="15.00" fill="#222"/><rect x="664.97" y="262.80" width="2.0" height="2.90"/><rect x="668.64" y="247.00" width="1.0" height="24.30" fill="#222"/><rect x="668.14" y="262.00" width="2.0" height="3.70"/><rect x="671.80" y="262.80" width="1.0" height="38.50" fill="#222"/><rect x="671.30" y="262.80" width="2.0" height="21.60"/><rect x="674.97" y="273.00" width="1.0" height="32.00" fill="#222"/><rect x="674.47" y="274.00" width="2.0" height="27.30"/><rect x="678.14" y="286.00" width="1.0" height="19.00" fill="#222"/><rect x="677.64" y="287.20" width="2.0" height="14.10"/><rect x="681.31" y="292.00" width="1.0" height="11.00" fill="#222"/><rect x="680.81" y="293.00" width="2.0" height="4.50"/><rect x="684.47" y="285.40" width="1.0" height="12.10" fill="#222"/><rect x="683.97" y="292.00" width="2.0" height="2.70"/><rect x="687.64" y="286.00" width="1.0" height="15.00" fill="#222"/><rect x="687.14" y="292.50" width="2.0" height="2.80"/><rect x="690.81" y="291.60" width="1.0" height="28.10" fill="#222"/><rect x="690.31" y="292.50" width="2.0" height="15.00"/><rect x="693.98" y="301.00" width="1.0" height="16.00" fill="#222"/><rect x="693.48" y="301.00" width="2.0" height="11.00"/><rect x="697.14" y="297.00" width="1.0" height="14.00" fill="#222"/><rect x="696.64" y="304.70" width="2.0" height="1.90"/><rect x="700.31" y="296.30" width="1.0" height="11.20" fill="#222"/><rect x="699.81" y="301.00" width="2.0" height="4.60"/><rect x="703.48" y="288.80" width="1.0" height="16.80" fill="#222"/><rect x="702.98" y="296.30" width="2.0" height="8.40"/><rect x="706.64" y="278.40" width="1.0" height="21.60" fill="#222"/><rect x="706.14" y="285.00" width="2.0" height="15.00"/><rect x="709.81" y="272.80" width="1.0" height="20.70" fill="#222"/><rect x="709.31" y="281.30" width="2.0" height="12.20"/><rect x="712.98" y="286.00" width="1.0" height="19.60" fill="#222"/><rect x="712.48" y="287.00" width="2.0" height="9.30"/><rect x="716.15" y="291.60" width="1.0" height="33.70" fill="#222"/><rect x="715.65" y="291.60" width="2.0" height="22.40"/><rect x="719.31" y="302.80" width="1.0" height="22.50" fill="#222"/><rect x="718.81" y="303.80" width="2.0" height="15.90"/><rect x="722.48" y="311.30" width="1.0" height="12.20" fill="#222"/><rect x="721.98" y="312.20" width="2.0" height="6.60"/><rect x="725.65" y="303.80" width="1.0" height="16.80" fill="#222"/><rect x="725.15" y="315.00" width="2.0" height="3.80"/><rect x="728.82" y="312.20" width="1.0" height="18.80" fill="#222"/><rect x="728.32" y="315.00" width="2.0" height="6.60"/><rect x="731.98" y="317.80" width="1.0" height="14.20" fill="#222"/><rect x="731.48" y="318.80" width="2.0" height="7.50"/><rect x="735.15" y="320.60" width="1.0" height="5.70" fill="#222"/><rect x="734.65" y="321.60" width="2.0" height="2.80"/><rect x="738.32" y="321.60" width="1.0" height="15.90" fill="#222"/><rect x="737.82" y="323.50" width="2.0" height="6.50"/><rect x="741.49" y="325.50" width="1.0" height="22.50" fill="#222"/><rect x="740.99" y="326.50" width="2.0" height="15.50"/><rect x="744.65" y="332.00" width="1.0" height="27.40" fill="#222"/><rect x="744.15" y="333.00" width="2.0" height="17.00"/><rect x="747.82" y="325.60" width="1.0" height="27.20" fill="#222"/><rect x="747.32" y="326.60" width="2.0" height="14.00"/><rect x="750.99" y="319.00" width="1.0" height="20.70" fill="#222"/><rect x="750.49" y="324.70" width="2.0" height="15.00"/><rect x="754.15" y="322.00" width="1.0" height="14.00" fill="#222"/><rect x="753.65" y="326.60" width="2.0" height="5.60"/><rect x="757.32" y="322.80" width="1.0" height="15.00" fill="#222"/><rect x="756.82" y="328.50" width="2.0" height="4.50"/><rect x="760.49" y="326.60" width="1.0" height="12.20" fill="#222"/><rect x="759.99" y="329.40" width="2.0" height="4.60"/><rect x="763.66" y="325.60" width="1.0" height="6.60" fill="#222"/><rect x="763.16" y="327.50" width="2.0" height="3.80"/><rect x="766.82" y="313.50" width="1.0" height="16.80" fill="#222"/><rect x="766.32" y="322.00" width="2.0" height="7.40"/><rect x="769.99" y="314.40" width="1.0" height="13.10" fill="#222"/><rect x="769.49" y="322.00" width="2.0" height="3.60"/><rect x="773.16" y="318.75" width="1.0" height="20.05" fill="#222"/><rect x="772.66" y="323.80" width="2.0" height="8.20"/><rect x="776.33" y="315.30" width="1.0" height="23.50" fill="#222"/><rect x="775.83" y="327.50" width="2.0" height="1.90"/><rect x="779.49" y="306.50" width="1.0" height="21.00" fill="#222"/><rect x="778.99" y="315.80" width="2.0" height="11.70"/><rect x="782.66" y="312.50" width="1.0" height="18.50" fill="#222"/><rect x="782.16" y="320.50" width="2.0" height="4.00"/><rect x="785.83" y="318.00" width="1.0" height="13.30" fill="#222"/><rect x="785.33" y="321.50" width="2.0" height="6.00"/><rect x="788.99" y="318.00" width="1.0" height="12.30" fill="#222"/><rect x="788.49" y="322.80" width="2.0" height="3.80"/><rect x="792.16" y="319.00" width="1.0" height="10.40" fill="#222"/><rect x="791.66" y="323.80" width="2.0" height="2.80"/><rect x="795.33" y="316.00" width="1.0" height="13.40" fill="#222"/><rect x="794.83" y="322.80" width="2.0" height="4.70"/><rect x="798.50" y="306.00" width="1.0" height="19.00" fill="#222"/><rect x="798.00" y="313.00" width="2.0" height="11.40"/><rect x="801.66" y="290.00" width="1.0" height="28.00" fill="#222"/><rect x="801.16" y="300.60" width="2.0" height="17.40"/><rect x="804.83" y="280.00" width="1.0" height="30.00" fill="#222"/><rect x="804.33" y="291.00" width="2.0" height="17.00"/><rect x="808.00" y="291.30" width="1.0" height="9.40" fill="#222"/><rect x="807.50" y="293.00" width="2.0" height="5.80"/><rect x="811.17" y="284.70" width="1.0" height="14.10" fill="#222"/><rect x="810.67" y="287.50" width="2.0" height="9.50"/><rect x="814.33" y="274.40" width="1.0" height="20.60" fill="#222"/><rect x="813.83" y="280.00" width="2.0" height="13.00"/><rect x="817.50" y="272.50" width="1.0" height="15.00" fill="#222"/><rect x="817.00" y="276.30" width="2.0" height="11.20"/><rect x="820.67" y="263.00" width="1.0" height="24.50" fill="#222"/><rect x="820.17" y="269.70" width="2.0" height="14.10"/><rect x="823.84" y="260.30" width="1.0" height="21.70" fill="#222"/><rect x="823.34" y="266.00" width="2.0" height="15.00"/><rect x="827.00" y="242.50" width="1.0" height="33.80" fill="#222"/><rect x="826.50" y="260.30" width="2.0" height="14.10"/><rect x="830.17" y="258.50" width="1.0" height="14.00" fill="#222"/><rect x="829.67" y="260.30" width="2.0" height="10.40"/><rect x="833.34" y="247.20" width="1.0" height="18.80" fill="#222"/><rect x="832.84" y="250.00" width="2.0" height="15.00"/><rect x="836.50" y="237.80" width="1.0" height="19.70" fill="#222"/><rect x="836.00" y="240.60" width="2.0" height="16.90"/><rect x="839.67" y="243.50" width="1.0" height="16.80" fill="#222"/><rect x="839.17" y="248.00" width="2.0" height="8.60"/><rect x="842.84" y="244.00" width="1.0" height="37.00" fill="#222"/><rect x="842.34" y="250.00" width="2.0" height="9.40"/><rect x="846.01" y="254.00" width="1.0" height="31.70" fill="#222"/><rect x="845.51" y="254.50" width="2.0" height="19.90"/><rect x="849.17" y="260.30" width="1.0" height="23.50" fill="#222"/><rect x="848.67" y="266.00" width="2.0" height="8.40"/><rect x="852.34" y="262.20" width="1.0" height="5.60" fill="#222"/><rect x="851.84" y="263.00" width="2.0" height="4.00"/><rect x="855.51" y="249.00" width="1.0" height="16.00" fill="#222"/><rect x="855.01" y="253.80" width="2.0" height="8.40"/><rect x="858.68" y="245.30" width="1.0" height="22.50" fill="#222"/><rect x="858.18" y="257.50" width="2.0" height="1.90"/><rect x="861.84" y="258.50" width="1.0" height="18.50" fill="#222"/><rect x="861.34" y="259.40" width="2.0" height="13.60"/><rect x="865.01" y="264.00" width="1.0" height="20.70" fill="#222"/><rect x="864.51" y="265.00" width="2.0" height="17.00"/><rect x="868.18" y="271.60" width="1.0" height="20.40" fill="#222"/><rect x="867.68" y="272.50" width="2.0" height="15.50"/><rect x="871.34" y="276.30" width="1.0" height="23.70" fill="#222"/><rect x="870.84" y="277.20" width="2.0" height="18.80"/><rect x="874.51" y="286.60" width="1.0" height="20.40" fill="#222"/><rect x="874.01" y="287.50" width="2.0" height="17.00"/><rect x="877.68" y="289.00" width="1.0" height="20.40" fill="#222"/><rect x="877.18" y="293.00" width="2.0" height="10.50"/><rect x="880.85" y="287.50" width="1.0" height="16.00" fill="#222"/><rect x="880.35" y="292.60" width="2.0" height="6.60"/><rect x="884.01" y="288.20" width="1.0" height="13.10" fill="#222"/><rect x="883.51" y="293.30" width="2.0" height="3.70"/><rect x="887.18" y="289.00" width="1.0" height="15.30" fill="#222"/><rect x="886.68" y="293.30" width="2.0" height="3.70"/><rect x="890.35" y="291.30" width="1.0" height="7.10" fill="#222"/><rect x="889.85" y="294.00" width="2.0" height="2.20"/></g></g>
<g stroke="#14977b" stroke-width="1.6" fill="none" stroke-linecap="round">
<polyline points="796.3,329.4 837.3,237.3 875.2,312.3 923.0,220.2"/>
</g>
<g stroke="#14977b" stroke-width="2.1" stroke-dasharray="0.1 4.6" stroke-linecap="round" fill="none">
<line x1="796.3" y1="329.4" x2="875.2" y2="312.3"/>
<line x1="837.3" y1="237.3" x2="923" y2="220.2"/>
</g>
<rect x="790.7" y="333.2" width="9.9" height="11.8" rx="2.3" fill="#14977b"/><text x="795.7" y="342.2" font-size="8.5" fill="#fff" text-anchor="middle" font-weight="normal" textLength="5.6" lengthAdjust="spacingAndGlyphs" stroke="#fff" stroke-width="0.15" >A</text>
<rect x="832.2" y="221.9" width="10.0" height="12.1" rx="2.3" fill="#14977b"/><text x="837.2" y="231.0" font-size="8.5" fill="#fff" text-anchor="middle" font-weight="normal" textLength="4.8" lengthAdjust="spacingAndGlyphs" stroke="#fff" stroke-width="0.15" >B</text>
<rect x="870.1" y="315.5" width="9.9" height="12.1" rx="2.3" fill="#14977b"/><text x="875.0" y="324.6" font-size="8.5" fill="#fff" text-anchor="middle" font-weight="normal" textLength="5.0" lengthAdjust="spacingAndGlyphs" stroke="#fff" stroke-width="0.15" >C</text>
<rect x="918" y="204" width="10.0" height="12.9" rx="2.3" fill="#14977b"/><text x="923.0" y="213.5" font-size="8.5" fill="#fff" text-anchor="middle" font-weight="normal" textLength="4.9" lengthAdjust="spacingAndGlyphs" stroke="#fff" stroke-width="0.15" >D</text>
<rect x="823.7" y="314.4" width="24.3" height="12.5" rx="2.3" fill="#14977b"/><text x="835.9" y="323.7" font-size="8.5" fill="#fff" text-anchor="middle" font-weight="normal" textLength="19" lengthAdjust="spacingAndGlyphs" stroke="#fff" stroke-width="0.15" >0.816</text>
<rect x="867.4" y="222.5" width="24.6" height="12.2" rx="2.3" fill="#14977b"/><text x="879.7" y="231.7" font-size="8.5" fill="#fff" text-anchor="middle" font-weight="normal" textLength="19" lengthAdjust="spacingAndGlyphs" stroke="#fff" stroke-width="0.15" >1.225</text>
<rect x="728.3" y="188.7" width="28.7" height="10.8" fill="#4b6e66" stroke="#2b3a36" stroke-width="0.8"/>
<text x="742.6" y="196.8" font-size="7.6" fill="#fff" text-anchor="middle" font-weight="normal" textLength="23.6" lengthAdjust="spacingAndGlyphs" stroke="#fff" stroke-width="0.35" >200 MA</text>
<rect x="757.2" y="289.3" width="28.2" height="10.7" fill="#4a786c" stroke="#2b3a36" stroke-width="0.8"/>
<text x="771.3" y="297.3" font-size="7.6" fill="#fff" text-anchor="middle" font-weight="normal" textLength="23.4" lengthAdjust="spacingAndGlyphs" stroke="#fff" stroke-width="0.35" >100 MA</text>
<rect x="525.4" y="35.8" width="70" height="22" fill="#5a5a5a" stroke="#1c1c1c" stroke-width="1.2"/>
<text x="560.8" y="51.1" font-size="15.2" fill="#fff" text-anchor="middle" font-weight="bold" textLength="61.5" lengthAdjust="spacingAndGlyphs" stroke="#fff" stroke-width="0.3" >NEAR-1D</text>
<text x="521.70" y="9.7" font-size="8.5" fill="#2a2e39" text-anchor="start" font-weight="normal" textLength="18.70" lengthAdjust="spacingAndGlyphs" stroke="#2a2e39" stroke-width="0.3" >NEAR</text><text x="544.20" y="9.7" font-size="8.5" fill="#2a2e39" text-anchor="middle" font-weight="normal" stroke="#2a2e39" stroke-width="0.3" >/</text><text x="548.60" y="9.7" font-size="8.5" fill="#2a2e39" text-anchor="start" font-weight="normal" textLength="17.45" lengthAdjust="spacingAndGlyphs" stroke="#2a2e39" stroke-width="0.3" >USDT</text><text x="569.75" y="9.7" font-size="8.5" fill="#2a2e39" text-anchor="middle" font-weight="normal" stroke="#2a2e39" stroke-width="0.3" >·</text><text x="574.20" y="9.7" font-size="8.5" fill="#2a2e39" text-anchor="start" font-weight="normal" textLength="9.10" lengthAdjust="spacingAndGlyphs" stroke="#2a2e39" stroke-width="0.3" >1D</text><text x="586.75" y="9.7" font-size="8.5" fill="#2a2e39" text-anchor="middle" font-weight="normal" stroke="#2a2e39" stroke-width="0.3" >·</text><text x="590.20" y="9.7" font-size="8.5" fill="#2a2e39" text-anchor="start" font-weight="normal" textLength="19.00" lengthAdjust="spacingAndGlyphs" stroke="#2a2e39" stroke-width="0.3" >MEXC</text><text x="612.60" y="9.7" font-size="8.5" fill="#2a2e39" text-anchor="middle" font-weight="normal" stroke="#2a2e39" stroke-width="0.3" >·</text><text x="616.70" y="9.7" font-size="8.5" fill="#2a2e39" text-anchor="start" font-weight="normal" textLength="21.85" lengthAdjust="spacingAndGlyphs" stroke="#2a2e39" stroke-width="0.3" >Heikin</text><text x="640.95" y="9.7" font-size="8.5" fill="#2a2e39" text-anchor="start" font-weight="normal" textLength="14.10" lengthAdjust="spacingAndGlyphs" stroke="#2a2e39" stroke-width="0.3" >Ashi</text><text x="659.45" y="9.7" font-size="8.5" fill="#2a2e39" text-anchor="start" font-weight="normal" textLength="24.85" lengthAdjust="spacingAndGlyphs" stroke="#2a2e39" stroke-width="0.3" >O2.473</text><text x="688.45" y="9.7" font-size="8.5" fill="#2a2e39" text-anchor="start" font-weight="normal" textLength="24.35" lengthAdjust="spacingAndGlyphs" stroke="#2a2e39" stroke-width="0.3" >H2.520</text><text x="717.45" y="9.7" font-size="8.5" fill="#2a2e39" text-anchor="start" font-weight="normal" textLength="23.25" lengthAdjust="spacingAndGlyphs" stroke="#2a2e39" stroke-width="0.3" >L2.468</text><text x="745.10" y="9.7" font-size="8.5" fill="#2a2e39" text-anchor="start" font-weight="normal" textLength="25.20" lengthAdjust="spacingAndGlyphs" stroke="#2a2e39" stroke-width="0.3" >C2.496</text>
<text x="1007.5" y="62.0" font-size="8.3" fill="#2a2e39" text-anchor="end" font-weight="normal" textLength="19.3" lengthAdjust="spacingAndGlyphs" stroke="#2a2e39" stroke-width="0.3" >5.000</text>
<text x="1007.5" y="108.8" font-size="8.3" fill="#2a2e39" text-anchor="end" font-weight="normal" textLength="19.3" lengthAdjust="spacingAndGlyphs" stroke="#2a2e39" stroke-width="0.3" >4.500</text>
<text x="1007.5" y="155.7" font-size="8.3" fill="#2a2e39" text-anchor="end" font-weight="normal" textLength="19.3" lengthAdjust="spacingAndGlyphs" stroke="#2a2e39" stroke-width="0.3" >4.000</text>
<text x="1007.5" y="202.6" font-size="8.3" fill="#2a2e39" text-anchor="end" font-weight="normal" textLength="19.3" lengthAdjust="spacingAndGlyphs" stroke="#2a2e39" stroke-width="0.3" >3.500</text>
<text x="1007.5" y="249.5" font-size="8.3" fill="#2a2e39" text-anchor="end" font-weight="normal" textLength="19.3" lengthAdjust="spacingAndGlyphs" stroke="#2a2e39" stroke-width="0.3" >3.000</text>
<text x="1007.5" y="343.2" font-size="8.3" fill="#2a2e39" text-anchor="end" font-weight="normal" textLength="19.3" lengthAdjust="spacingAndGlyphs" stroke="#2a2e39" stroke-width="0.3" >2.000</text>
<text x="1007.5" y="390.1" font-size="8.3" fill="#2a2e39" text-anchor="end" font-weight="normal" textLength="19.3" lengthAdjust="spacingAndGlyphs" stroke="#2a2e39" stroke-width="0.3" >1.500</text>
<text x="1007.5" y="437.0" font-size="8.3" fill="#2a2e39" text-anchor="end" font-weight="normal" textLength="19.3" lengthAdjust="spacingAndGlyphs" stroke="#2a2e39" stroke-width="0.3" >1.000</text>
<rect x="985" y="-4" width="29.3" height="20.5" rx="3" fill="#fff" stroke="#e6e8ec" stroke-width="1"/>
<text x="991" y="11.6" font-size="8.6" fill="#2a2e39" text-anchor="start" font-weight="normal" textLength="17.4" lengthAdjust="spacingAndGlyphs" stroke="#2a2e39" stroke-width="0.3" >USDT</text>
<rect x="983" y="261.8" width="27.8" height="10.7" rx="1.5" fill="#2f7ef6"/><text x="997.8" y="270.1" font-size="8.3" fill="#fff" text-anchor="middle" font-weight="normal" textLength="19" lengthAdjust="spacingAndGlyphs" stroke="#fff" stroke-width="0.3" >2.789</text>
<rect x="983" y="277.1" width="27.8" height="11.2" rx="1.5" fill="#87192a"/><text x="997.8" y="285.7" font-size="8.3" fill="#fff" text-anchor="middle" font-weight="normal" textLength="19" lengthAdjust="spacingAndGlyphs" stroke="#fff" stroke-width="0.3" >2.533</text>
<rect x="983" y="288.3" width="27.8" height="10.2" rx="1.5" fill="#000"/><text x="997.8" y="296.4" font-size="8.3" fill="#fff" text-anchor="middle" font-weight="normal" textLength="19" lengthAdjust="spacingAndGlyphs" stroke="#fff" stroke-width="0.3" >2.506</text>
<text x="580" y="472.8" font-size="8" fill="#2a2e39" text-anchor="middle" font-weight="bold" >May</text>
<text x="678.8" y="472.8" font-size="8" fill="#2a2e39" text-anchor="middle" font-weight="bold" >Jun</text>
<text x="774" y="472.8" font-size="8" fill="#2a2e39" text-anchor="middle" font-weight="bold" >Jul</text>
<text x="872.3" y="472.8" font-size="8" fill="#2a2e39" text-anchor="middle" font-weight="bold" >Aug</text>
<text x="970.5" y="472.8" font-size="8" fill="#2a2e39" text-anchor="middle" font-weight="bold" >Sep</text>
</svg></body></html>
